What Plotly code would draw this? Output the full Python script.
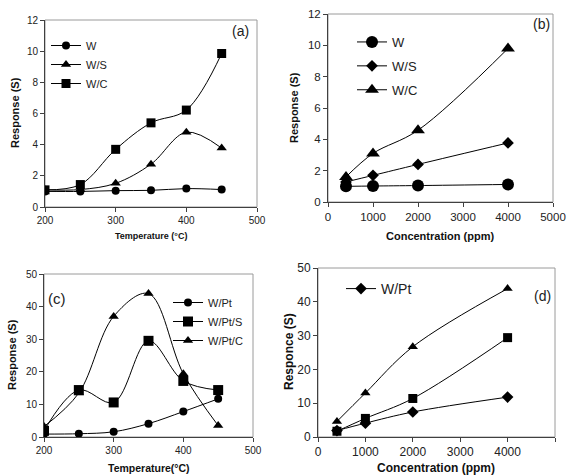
import plotly.graph_objects as go

# ---------------- data ----------------
temp = [200, 250, 300, 350, 400, 450]
conc = [400, 1000, 2000, 4000]

a_W = [1.0, 1.0, 1.05, 1.07, 1.18, 1.12]
a_WS = [1.1, 1.12, 1.52, 2.75, 4.8, 3.78]
a_WC = [1.1, 1.44, 3.7, 5.4, 6.22, 9.85]

b_W = [1.0, 1.02, 1.05, 1.12]
b_WS = [1.28, 1.7, 2.4, 3.77]
b_WC = [1.6, 3.1, 4.58, 9.8]

c_WPt = [0.9, 1.0, 1.6, 4.1, 7.8, 11.7]
c_WPtS = [1.9, 14.4, 10.6, 29.5, 17.2, 14.4]
c_WPtC = [3.2, 13.5, 37.0, 44.0, 19.4, 3.5]

d_WPt = [1.9, 4.1, 7.4, 11.8]
d_WPtS = [1.7, 5.5, 11.4, 29.4]
d_WPtC = [4.6, 13.0, 26.7, 43.9]

# ---------------- figure ----------------
W, H = 568, 475
FONT = "Liberation Sans, Arial, sans-serif"
fig = go.Figure()

def add(x, y, name, sym, size, xa, ya, leg, show=True, group=None):
    fig.add_trace(go.Scatter(
        x=x, y=y, name=name, mode="lines+markers",
        line=dict(color="black", width=1, shape="spline", smoothing=1.0),
        marker=dict(symbol=sym, size=size, color="black"),
        xaxis=xa, yaxis=ya, legend=leg, showlegend=show,
        legendgroup=group))

add(temp, a_W, "W", "circle", 8, "x", "y", "legend")
add(temp, a_WS, "W/S", "triangle-up", 9, "x", "y", "legend")
add(temp, a_WC, "W/C", "square", 9, "x", "y", "legend")

add(conc, b_W, "W", "circle", 12, "x2", "y2", "legend2", group="b1")
add(conc, b_WS, "W/S", "diamond", 9, "x2", "y2", "legend2", group="b2")
add(conc, b_WC, "W/C", "triangle-up", 12, "x2", "y2", "legend2", group="b3")

add(temp, c_WPt, "W/Pt", "circle", 8, "x3", "y3", "legend3")
add(temp, c_WPtS, "W/Pt/S", "square", 10, "x3", "y3", "legend3")
add(temp, c_WPtC, "W/Pt/C", "triangle-up", 9, "x3", "y3", "legend3")

add(conc, d_WPt, "W/Pt", "diamond", 9, "x4", "y4", "legend4")
add(conc, d_WPtS, "W/Pt/S", "square", 9, "x4", "y4", "legend4", show=False)
add(conc, d_WPtC, "W/Pt/C", "triangle-up", 9, "x4", "y4", "legend4", show=False)

def px_x(p):
    return p / W

def px_y(p):
    return 1 - p / H

# plot areas in pixels: (left, right, top, bottom)
areas = {
    "1": (45, 257, 20, 207),
    "2": (328, 553, 14, 202),
    "3": (44, 253, 274, 437),
    "4": (318, 555, 268, 437),
}
xr = {"1": [200, 500], "2": [0, 5000], "3": [200, 500], "4": [0, 5000]}
yr = {"1": [0, 12], "2": [0, 12], "3": [0, 50], "4": [0, 50]}
xd = {"1": 100, "2": 1000, "3": 100, "4": 1000}
yd = {"1": 2, "2": 2, "3": 10, "4": 10}
tsz = {"1": 10, "2": 11.5, "3": 10, "4": 12}

layout = {}
for k, (l, r, t, b) in areas.items():
    sx = "" if k == "1" else k
    common = dict(showgrid=False, zeroline=False, showline=True,
                  linecolor="#404040", linewidth=1, ticks="outside",
                  ticklen=4, tickcolor="#404040", mirror=False, automargin=False,
                  tickfont=dict(family=FONT, size=tsz[k], color="#222"))
    layout["xaxis" + sx] = dict(common, domain=[px_x(l), px_x(r)], range=xr[k],
                                dtick=xd[k], anchor="y" + sx)
    layout["yaxis" + sx] = dict(common, domain=[px_y(b), px_y(t)], range=yr[k],
                                dtick=yd[k], anchor="x" + sx)
fig.update_layout(**layout)

# plot area borders (top / right in lighter grey)
for k in areas:
    sx = "" if k == "1" else k
    fig.add_shape(type="rect", xref=f"x{sx} domain", yref=f"y{sx} domain",
                  x0=0, x1=1, y0=0, y1=1, line=dict(color="#9a9a9a", width=1),
                  layer="below")

legbase = dict(bgcolor="rgba(0,0,0,0)", borderwidth=0, xanchor="left",
               yanchor="top", itemwidth=30, tracegroupgap=0)
fig.update_layout(
    legend=dict(legbase, x=px_x(46), y=px_y(31), font=dict(family=FONT, size=11, color="#222")),
    legend2=dict(legbase, x=px_x(352), y=px_y(27), tracegroupgap=4,
                 font=dict(family=FONT, size=13, color="#222")),
    legend3=dict(legbase, x=px_x(168), y=px_y(288), font=dict(family=FONT, size=11, color="#222")),
    legend4=dict(legbase, x=px_x(341), y=px_y(273), font=dict(family=FONT, size=14, color="#222")),
)

# panel labels
for txt, xp, yp, sz in [("(a)", 240, 31, 14), ("(b)", 541, 24, 14),
                        ("(c)", 57, 298, 15), ("(d)", 542, 296, 14)]:
    fig.add_annotation(text=txt, x=px_x(xp), y=px_y(yp), xref="paper", yref="paper",
                       xanchor="center", yanchor="middle",
                       showarrow=False, font=dict(family=FONT, size=sz, color="#222"))

# axis titles
bold = lambda s: f"<b>{s}</b>"
for txt, xp, yp, sz, ang in [
        ("Temperature (°C)", 151, 236, 9, 0),
        ("Concentration (ppm)", 440, 236, 11, 0),
        ("Temperature(°C)", 149, 468, 10.5, 0),
        ("Concentration (ppm)", 436, 468, 12, 0),
        ("Response (S)", 15, 113, 11, -90),
        ("Response (S)", 294, 108, 11, -90),
        ("Response (S)", 12, 355, 11, -90),
        ("Responce (S)", 289, 352, 12, -90)]:
    fig.add_annotation(text=bold(txt), x=px_x(xp), y=px_y(yp), xref="paper", yref="paper",
                       xanchor="center", yanchor="middle",
                       showarrow=False, textangle=ang,
                       font=dict(family=FONT, size=sz, color="#111"))

fig.update_layout(width=W, height=H,
                  margin=dict(l=0, r=0, t=0, b=0, pad=0, autoexpand=False),
                  template="none",
                  paper_bgcolor="white", plot_bgcolor="white", showlegend=True)

fig.write_html("out.html", config={"displayModeBar": False},
               post_script="document.body.style.margin='0';document.body.style.overflow='hidden';")
